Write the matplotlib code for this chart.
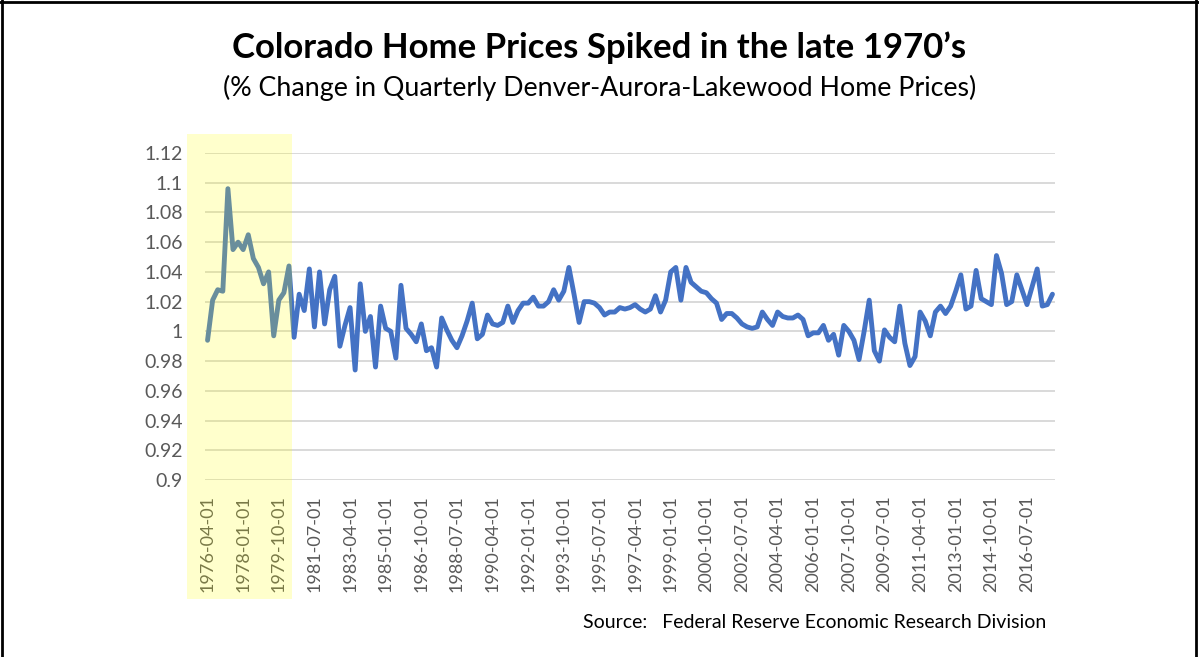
import matplotlib
matplotlib.use("Agg")
import matplotlib.pyplot as plt
from matplotlib.lines import Line2D
from matplotlib.patches import Rectangle
import pandas as pd

# quarterly ratio of Denver-Aurora-Lakewood home price index (1976Q2 .. 2017Q4)
quarters = pd.date_range("1976-04-01", periods=167, freq="QS").strftime("%Y-%m-%d").tolist()
values = [
	0.994, 1.021, 1.028, 1.027, 1.096, 1.055, 1.060, 1.055, 1.065, 1.049,
	1.043, 1.032, 1.040, 0.997, 1.021, 1.026, 1.044, 0.996, 1.025, 1.014,
	1.042, 1.003, 1.040, 1.005, 1.028, 1.037, 0.990, 1.004, 1.016, 0.974,
	1.032, 1.000, 1.010, 0.976, 1.017, 1.002, 1.000, 0.982, 1.031, 1.002,
	0.998, 0.993, 1.005, 0.987, 0.989, 0.976, 1.009, 1.001, 0.994, 0.989,
	0.997, 1.007, 1.019, 0.995, 0.998, 1.011, 1.005, 1.004, 1.006, 1.017,
	1.006, 1.014, 1.019, 1.019, 1.023, 1.017, 1.017, 1.020, 1.028, 1.021,
	1.027, 1.043, 1.025, 1.006, 1.020, 1.020, 1.019, 1.016, 1.011, 1.013,
	1.013, 1.016, 1.015, 1.016, 1.018, 1.015, 1.013, 1.015, 1.024, 1.013,
	1.021, 1.040, 1.043, 1.021, 1.043, 1.033, 1.030, 1.027, 1.026, 1.022,
	1.019, 1.008, 1.012, 1.012, 1.009, 1.005, 1.003, 1.002, 1.003, 1.013,
	1.008, 1.004, 1.013, 1.010, 1.009, 1.009, 1.011, 1.008, 0.997, 0.999,
	0.999, 1.004, 0.994, 0.998, 0.984, 1.004, 1.000, 0.994, 0.981, 1.000,
	1.021, 0.987, 0.980, 1.001, 0.996, 0.993, 1.017, 0.992, 0.977, 0.983,
	1.013, 1.007, 0.997, 1.013, 1.017, 1.012, 1.017, 1.027, 1.038, 1.015,
	1.017, 1.041, 1.022, 1.020, 1.018, 1.051, 1.039, 1.018, 1.020, 1.038,
	1.028, 1.018, 1.030, 1.042, 1.017, 1.018, 1.025,
]
y_ticks = [0.9, 0.92, 0.94, 0.96, 0.98, 1.0, 1.02, 1.04, 1.06, 1.08, 1.1, 1.12]
tick_step = 7

title = "Colorado Home Prices Spiked in the late 1970\u2019s"
subtitle = "(% Change in Quarterly Denver-Aurora-Lakewood Home Prices)"
source = "Source:   Federal Reserve Economic Research Division"

W, H = 1199, 657
fig = plt.figure(figsize=(W / 100, H / 100), dpi=100)
plt.rcParams["font.family"] = ["Lato", "DejaVu Sans"]

# ── plot area ──
ax = fig.add_axes([205 / W, 1 - 480 / H, 850 / W, 327 / H])
ax.plot(range(len(values)), values, color="#4472C4", lw=3.5,
	solid_joinstyle="round", solid_capstyle="round", zorder=3)
ax.set_xlim(-0.5, len(values) - 0.5)
ax.set_ylim(0.9, 1.12)
ax.set_yticks(y_ticks)
ax.set_yticklabels([f"{v:g}" for v in y_ticks])
idx = list(range(0, len(quarters), tick_step))
ax.set_xticks(idx)
ax.set_xticklabels([quarters[i] for i in idx], rotation=90)
ax.grid(axis="y", color="#D9D9D9", lw=1.4, zorder=0)
for s in ax.spines.values():
	s.set_visible(False)
ax.tick_params(length=0, labelcolor="#595959")
ax.tick_params(axis="y", pad=16, labelsize=14)
ax.tick_params(axis="x", pad=11, labelsize=13)

# ── yellow highlight over the late 1970s ──
fig.add_artist(Rectangle((187 / W, 1 - 599 / H), 105 / W, 465 / H,
	transform=fig.transFigure, facecolor="#FFFF00", alpha=0.2,
	edgecolor="none", zorder=10))

# ── frame ──
for xs, ys in [((2 / W, 2 / W), (0, 1)), ((0, 1), (1 - 1.5 / H, 1 - 1.5 / H)),
		((1 - 3 / W, 1 - 3 / W), (0, 1))]:
	fig.add_artist(Line2D(xs, ys, transform=fig.transFigure, color="black", lw=2))

# ── texts ──
fig.text(0.5, 1 - 48 / H, title, ha="center", va="center", fontsize=25, fontweight="bold")
fig.text(0.5, 1 - 88 / H, subtitle, ha="center", va="center", fontsize=19.3)
fig.text(583 / W, 1 - 623 / H, source, ha="left", va="center", fontsize=14)

fig.savefig("out.png", dpi=100)
